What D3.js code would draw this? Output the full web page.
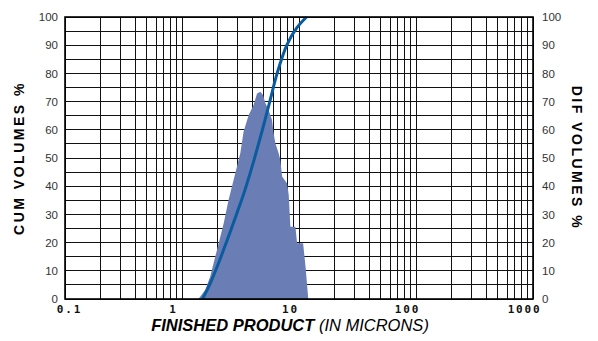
<!DOCTYPE html>
<html>
<head>
<meta charset="utf-8">
<script src="https://cdn.jsdelivr.net/npm/d3@7/dist/d3.min.js"></script>
<style>
  body { margin: 0; background: #fff; }
  svg { display: block; }
</style>
</head>
<body>
<div id="chart"></div>
<script>
// data
const difSizes = [1.38, 1.58, 1.74, 1.99, 2.27, 2.5, 3.15, 3.36, 3.71, 4.09, 4.38, 4.67, 4.93, 5.16, 5.5, 5.88, 6.07, 6.28, 6.7, 6.93, 7.17, 7.91, 8.17, 8.44, 9.32, 9.63, 10.84, 11.4, 12.0]
const difValues = [0, 3.2, 7.9, 17.4, 26.8, 35.1, 51.7, 59.3, 65.2, 68.8, 72.9, 73.5, 72.3, 69.4, 67.0, 63.5, 58.8, 55.2, 51.7, 49.3, 43.4, 41.0, 36.9, 25.6, 25.6, 19.8, 19.8, 11, 0]

const cumSizes = [1.5, 1.75, 2.0, 2.4, 2.95, 3.4, 4.1, 5.0, 5.7, 6.5, 7.9, 9.6, 11.6]
const cumValues = [0, 5.7, 11.5, 20.2, 30.5, 37.8, 48.9, 61.8, 70.9, 80.0, 90.2, 96.2, 100]

const xTickLabels = [0.1, 1, 10, 100, 1000]
const yTickLabels = [0, 10, 20, 30, 40, 50, 60, 70, 80, 90, 100]

const width = 598
const height = 341
const margin = { top: 17, right: 65, bottom: 42, left: 65 }
const innerW = width - margin.left - margin.right
const innerH = height - margin.top - margin.bottom

const svg = d3.select('#chart').append('svg').attr('width', width).attr('height', height)
const g = svg.append('g').attr('transform', `translate(${margin.left}, ${margin.top})`)

const x = d3.scaleLog().domain([0.1, 1000]).range([0, innerW])
const y = d3.scaleLinear().domain([0, 100]).range([innerH, 0])

// grid
const grid = g.append('g').attr('class', 'grid').attr('shape-rendering', 'crispEdges')
grid.selectAll('line.v').data(x.ticks()).enter().append('line')
    .attr('class', 'v')
    .attr('x1', d => x(d)).attr('x2', d => x(d))
    .attr('y1', 0).attr('y2', innerH)
    .attr('stroke', '#111').attr('stroke-width', 1)
grid.selectAll('line.h').data(y.ticks(20)).enter().append('line')
    .attr('class', 'h')
    .attr('x1', 0).attr('x2', innerW)
    .attr('y1', d => y(d)).attr('y2', d => y(d))
    .attr('stroke', '#111').attr('stroke-width', 1)

// dif volumes area
const dif = difSizes.map((s, i) => ({ s: s, v: difValues[i] }))
g.append('path').datum(dif)
    .attr('fill', '#6a7db4')
    .attr('d', d3.area().x(d => x(d.s)).y0(y(0)).y1(d => y(d.v)))

// cum volumes curve
const cum = cumSizes.map((s, i) => ({ s: s, v: cumValues[i] }))
g.append('path').datum(cum)
    .attr('fill', 'none')
    .attr('stroke', '#0a5c9e')
    .attr('stroke-width', 3)
    .attr('d', d3.line().x(d => x(d.s)).y(d => y(d.v)).curve(d3.curveCatmullRom.alpha(0.5)))

// frame
g.append('rect').attr('width', innerW).attr('height', innerH)
    .attr('fill', 'none').attr('stroke', '#000').attr('stroke-width', 1.6)

// axes
const yLeft = g.append('g').call(d3.axisLeft(y).tickValues(yTickLabels).tickSize(0).tickPadding(7))
const yRight = g.append('g').attr('transform', `translate(${innerW},0)`)
    .call(d3.axisRight(y).tickValues(yTickLabels).tickSize(0).tickPadding(9))
const xAxis = g.append('g').attr('transform', `translate(0,${innerH})`)
    .call(d3.axisBottom(x).tickValues(xTickLabels).tickSize(0).tickPadding(6).tickFormat(d => String(d)))

;[yLeft, yRight].forEach(a => {
    a.select('.domain').remove()
    a.selectAll('text').attr('font-family', 'Liberation Sans, Arial, sans-serif')
        .attr('font-size', 11.5).attr('fill', '#333')
})
xAxis.select('.domain').remove()
xAxis.selectAll('text')
    .attr('font-family', 'DejaVu Sans Mono, monospace')
    .attr('font-weight', 'bold')
    .attr('font-size', 11)
    .attr('letter-spacing', 1.8)
    .attr('fill', '#111')
    .attr('dx', d => d < 1 ? 4 : -9)

// axis titles
svg.append('text')
    .attr('transform', `translate(24, ${margin.top + innerH / 2}) rotate(-90)`)
    .attr('text-anchor', 'middle')
    .attr('font-family', 'Liberation Sans, Arial, sans-serif')
    .attr('font-weight', 'bold').attr('font-size', 14).attr('letter-spacing', 2.5)
    .text('CUM VOLUMES %')

svg.append('text')
    .attr('transform', `translate(572, ${margin.top + innerH / 2}) rotate(90)`)
    .attr('text-anchor', 'middle')
    .attr('font-family', 'Liberation Sans, Arial, sans-serif')
    .attr('font-weight', 'bold').attr('font-size', 14).attr('letter-spacing', 2.5)
    .text('DIF VOLUMES %')

const xt = svg.append('text')
    .attr('x', 290).attr('y', 331)
    .attr('text-anchor', 'middle')
    .attr('font-family', 'Liberation Sans Narrow, Liberation Sans, Arial, sans-serif')
    .attr('font-size', 16.5).attr('font-style', 'italic')
xt.append('tspan').attr('font-weight', 'bold').text('FINISHED PRODUCT')
xt.append('tspan').text(' (IN MICRONS)')
</script>
</body>
</html>
